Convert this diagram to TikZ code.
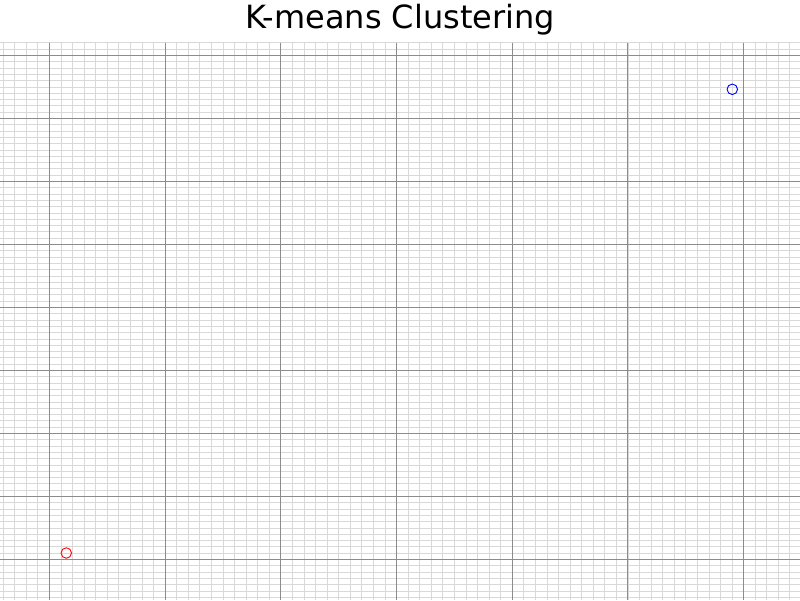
\documentclass[tikz,border=0pt]{standalone}
\usepackage{fontspec}
\setmainfont{DejaVu Sans}
\begin{document}
\begin{tikzpicture}
  [x=1pt,y=-1pt,
   minorline/.style={draw=black!15,line width=0.6pt},
   majorline/.style={draw=black!45,line width=0.8pt},
   centroid/.style={circle,draw,line width=0.9pt,minimum size=10.5pt,inner sep=0pt}]
  \useasboundingbox (0,0) rectangle (800,600);
  \begin{scope}
    \clip (0,42.7) rectangle (800,600);
    % fine grid
    \foreach \i in {-5,...,65}
      \draw[minorline] (49.3+11.57*\i,42.7) -- (49.3+11.57*\i,600);
    \foreach \j in {-2,...,87}
      \draw[minorline] (0,55.3+6.3*\j) -- (800,55.3+6.3*\j);
    % coarse grid
    \foreach \i in {0,...,6}
      \draw[majorline] (49.3+115.7*\i,42.7) -- (49.3+115.7*\i,600);
    \foreach \j in {0,...,8}
      \draw[majorline] (0,55.3+63*\j) -- (800,55.3+63*\j);
  \end{scope}
  \node (title) at (400,20) {\fontsize{32}{38}\selectfont K-means Clustering};
  \node[centroid,draw=red] (c1) at (66.3,553) {};
  \node[centroid,draw=blue] (c2) at (732.3,89.3) {};
\end{tikzpicture}
\end{document}
